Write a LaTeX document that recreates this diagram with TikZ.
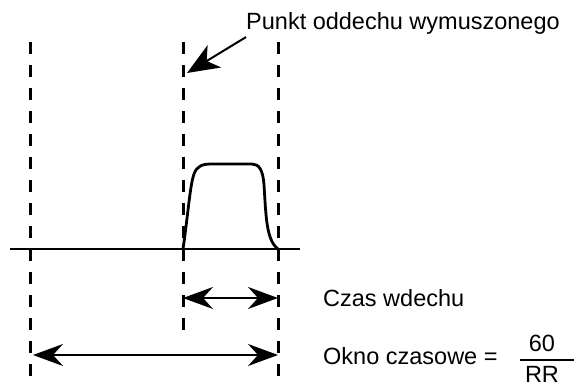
\documentclass[tikz,border=0pt]{standalone}
\usepackage{fontspec}
\setmainfont{Liberation Sans}
\usetikzlibrary{arrows.meta}
\tikzset{
  guide/.style={line width=3pt, dash pattern=on 12pt off 11pt},
  pulse/.style={line width=2.8pt, line join=round},
  span/.style={line width=2pt, {Stealth[length=30pt,width=22pt,inset=10pt]}-{Stealth[length=30pt,width=22pt,inset=10pt]}},
  pointer/.style={line width=2pt, -{Stealth[length=32pt,width=26pt,inset=9pt]}},
  lbl/.style={inner sep=0pt, font=\fontsize{23.5}{28}\selectfont}
}
\begin{document}
\begin{tikzpicture}[x=1pt,y=-1pt]
\useasboundingbox (0,0) rectangle (574,387);
\coordinate (lt) at (30,42);
\coordinate (lb) at (30,387);
\coordinate (mt) at (183,42);
\coordinate (mb) at (183,332);
\coordinate (rt) at (278,42);
\coordinate (rb) at (278,387);
\draw[guide] (lt) -- (lb);
\draw[guide] (mt) -- (mb);
\draw[guide] (rt) -- (rb);
\draw[line width=2.4pt] (10,249) -- (300,249);
\draw[pulse] (183,249) .. controls (188,215) and (190,185) .. (194,174) .. controls (197,166) and (202,164) .. (212,164) -- (252,164) .. controls (259,164) and (263,170) .. (264,185) .. controls (266,215) and (266,240) .. (278,249);
\node[lbl, anchor=base west] (peak) at (246,30) {Punkt oddechu wymuszonego};
\coordinate (tip) at (187,73);
\draw[pointer] (peak.south west) ++(0,2) -- (tip);
\coordinate (ia) at (183,298);
\coordinate (ib) at (278,298);
\draw[span] (ia) -- (ib);
\node[lbl, anchor=west] (insp) at (323,298) {Czas wdechu};
\coordinate (wa) at (33,355);
\coordinate (wb) at (278,355);
\draw[span] (wa) -- (wb);
\node[lbl, anchor=west] (win) at (323,356) {Okno czasowe =};
\node[lbl] (num) at (542,343) {60};
\node[lbl] (den) at (542,374) {RR};
\coordinate (fa) at (520,360);
\coordinate (fb) at (574,360);
\draw[line width=2.4pt] (fa) -- (fb);
\end{tikzpicture}
\end{document}
